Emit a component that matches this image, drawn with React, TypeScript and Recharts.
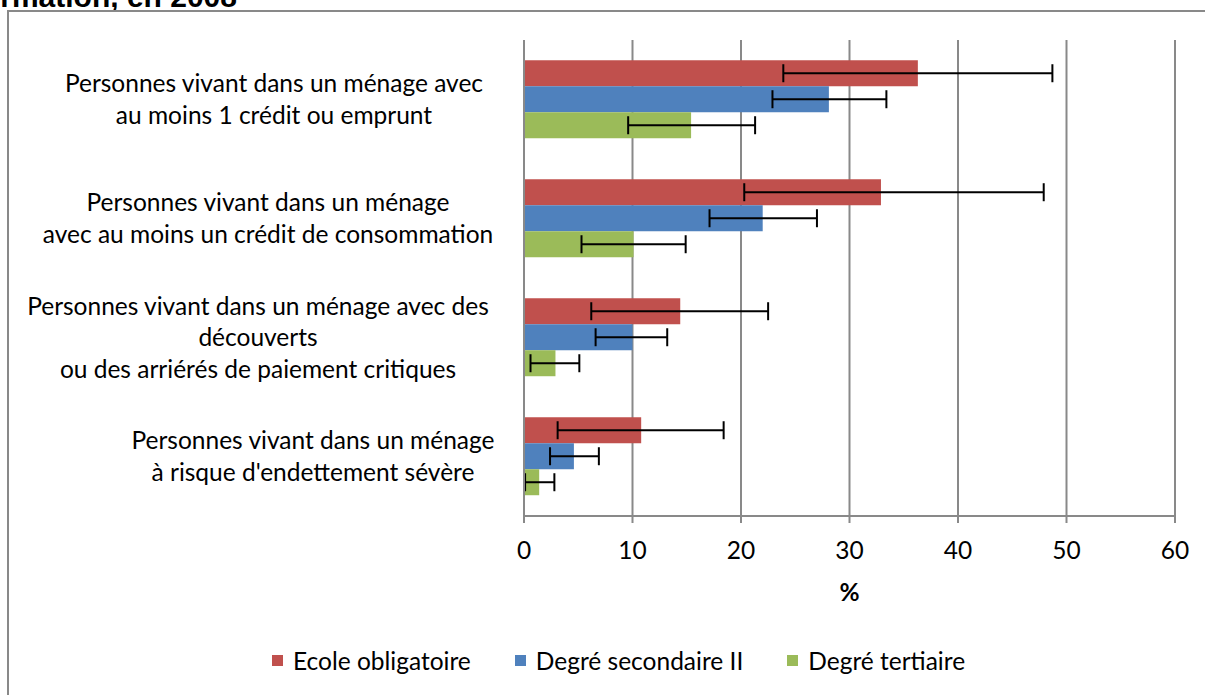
import React from 'react';
import { BarChart, Bar, XAxis, YAxis, CartesianGrid, ErrorBar } from 'recharts';

const CATEGORIES = [
  'Personnes vivant dans un ménage avec\nau moins 1 crédit ou emprunt',
  'Personnes vivant dans un ménage\navec au moins un crédit de consommation',
  'Personnes vivant dans un ménage avec des\ndécouverts\nou des arriérés de paiement critiques',
  "Personnes vivant dans un ménage\nà risque d'endettement sévère",
];

const SERIES_NAMES = ['Ecole obligatoire', 'Degré secondaire II', 'Degré tertiaire'];
const SERIES_COLORS = ['#C0504D', '#4F81BD', '#9BBB59'];

const ECOLE = [36.3, 32.9, 14.4, 10.8];
const ECOLE_LOW = [23.9, 20.3, 6.2, 3.1];
const ECOLE_HIGH = [48.7, 47.9, 22.5, 18.4];

const SECONDAIRE = [28.1, 22.0, 10.0, 4.6];
const SECONDAIRE_LOW = [22.9, 17.1, 6.6, 2.4];
const SECONDAIRE_HIGH = [33.4, 27.0, 13.2, 6.9];

const TERTIAIRE = [15.4, 10.1, 2.9, 1.4];
const TERTIAIRE_LOW = [9.6, 5.3, 0.6, 0.1];
const TERTIAIRE_HIGH = [21.3, 14.9, 5.1, 2.8];

const X_TICKS = [0, 10, 20, 30, 40, 50, 60];

const err = (v: number, lo: number, hi: number) => [+(v - lo).toFixed(2), +(hi - v).toFixed(2)];

const data = CATEGORIES.map((name, i) => ({
  name,
  s0: ECOLE[i],
  s0Err: err(ECOLE[i], ECOLE_LOW[i], ECOLE_HIGH[i]),
  s1: SECONDAIRE[i],
  s1Err: err(SECONDAIRE[i], SECONDAIRE_LOW[i], SECONDAIRE_HIGH[i]),
  s2: TERTIAIRE[i],
  s2Err: err(TERTIAIRE[i], TERTIAIRE_LOW[i], TERTIAIRE_HIGH[i]),
}));

const FONT = 'Lato, "Open Sans", sans-serif';
const FS = 24.5;
const GRID = '#898989';

// label centres differ a little per category (trailing spaces in the original)
const LABEL_CENTER = [274, 268, 258, 313];

const CategoryTick = (props: any) => {
  const { y, index } = props;
  const lines = String(props.payload.value).split('\n');
  const lh = 31.5;
  const start = y - ((lines.length - 1) * lh) / 2;
  const cx = LABEL_CENTER[index] ?? 270;
  return (
    <text textAnchor="middle" fontSize={FS} fill="#000" fontFamily={FONT}>
      {lines.map((l, i) => (
        <tspan key={i} x={cx} y={start + i * lh} dy="0.35em">
          {l}
        </tspan>
      ))}
    </text>
  );
};

const PercentLabel = (props: any) => {
  const { x, y, width } = props.viewBox;
  return (
    <text x={x + width / 2} y={y + 85} textAnchor="middle" fontSize={FS} fontWeight="bold" fill="#000" fontFamily={FONT}>
      %
    </text>
  );
};

export default function App() {
  return (
    <div style={{ position: 'absolute', left: 0, top: 0, width: 1205, height: 695, overflow: 'hidden', background: '#fff' }}>
      <div
        style={{
          position: 'absolute',
          right: 968,
          top: -18,
          whiteSpace: 'nowrap',
          fontFamily: '"Liberation Sans", Arial, sans-serif',
          fontWeight: 'bold',
          fontSize: 30,
          lineHeight: 1,
        }}
      >
        Endettement selon le niveau de formation, en 2008
      </div>
      <div style={{ position: 'absolute', left: 7, top: 10, width: 1210, height: 700, border: `2px solid ${GRID}`, boxSizing: 'border-box' }} />
      <div style={{ position: 'absolute', left: 0, top: 0 }}>
        <BarChart
          width={1205}
          height={695}
          data={data}
          layout="vertical"
          margin={{ top: 40, right: 30, bottom: 0, left: 0 }}
          barCategoryGap="17%"
          barGap={0}
        >
          <CartesianGrid horizontal={false} vertical stroke={GRID} strokeWidth={2} />
          <XAxis
            type="number"
            domain={[0, 60]}
            ticks={X_TICKS}
            height={179}
            axisLine={{ stroke: GRID, strokeWidth: 2 }}
            tickLine={{ stroke: GRID, strokeWidth: 2 }}
            tickSize={7}
            tickMargin={19}
            tick={{ fontSize: FS, fill: '#000', fontFamily: FONT }}
            label={<PercentLabel />}
          />
          <YAxis
            type="category"
            dataKey="name"
            width={524}
            axisLine={{ stroke: GRID, strokeWidth: 2 }}
            tickLine={false}
            tick={<CategoryTick />}
            interval={0}
          />
          {[0, 1, 2].map((k) => (
            <Bar key={k} dataKey={`s${k}`} name={SERIES_NAMES[k]} fill={SERIES_COLORS[k]} isAnimationActive={false}>
              <ErrorBar dataKey={`s${k}Err`} direction="x" width={9} strokeWidth={2} stroke="#000" />
            </Bar>
          ))}
        </BarChart>
      </div>
      <div
        style={{
          position: 'absolute',
          left: 272,
          top: 646,
          display: 'flex',
          alignItems: 'center',
          fontFamily: FONT,
          fontSize: FS,
          color: '#000',
        }}
      >
        {SERIES_NAMES.map((n, i) => (
          <div key={n} style={{ display: 'flex', alignItems: 'center', marginRight: 44 }}>
            <span style={{ display: 'inline-block', width: 11, height: 11, background: SERIES_COLORS[i], marginRight: 10 }} />
            <span>{n}</span>
          </div>
        ))}
      </div>
    </div>
  );
}
